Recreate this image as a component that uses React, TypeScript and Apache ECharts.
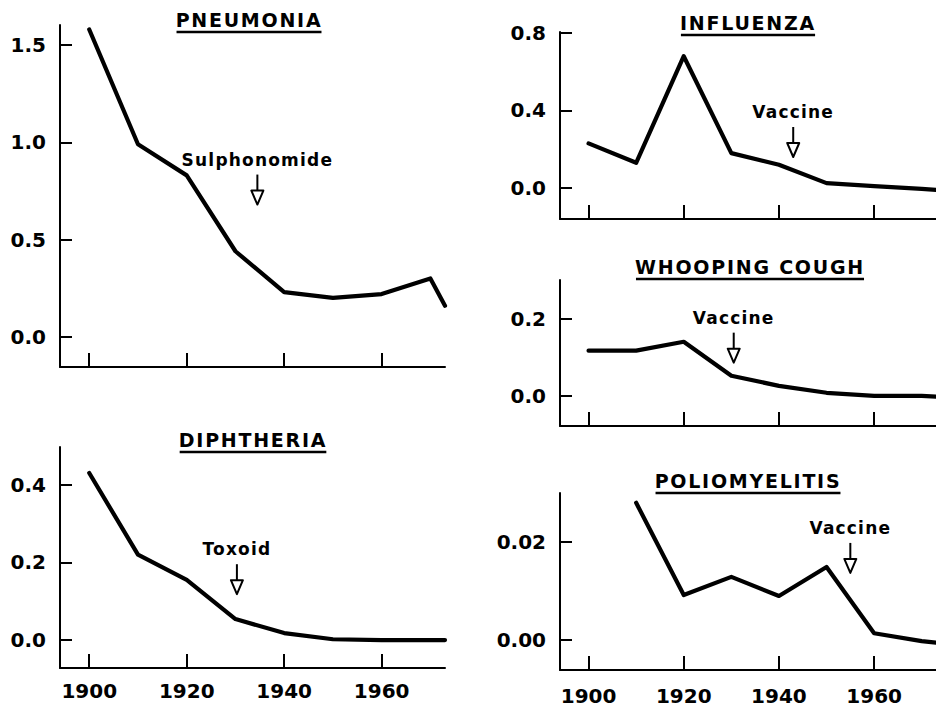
import React, { useEffect, useRef } from 'react';
import * as echarts from 'echarts';

// ---- data ----
const years = [1900, 1910, 1920, 1930, 1940, 1950, 1960, 1970, 1973];
const pneumonia = [1.58, 0.99, 0.83, 0.44, 0.23, 0.2, 0.22, 0.3, 0.16];
const diphtheria = [0.43, 0.22, 0.155, 0.054, 0.018, 0.002, 0.0, 0.0, 0.0];
const influenza = [0.23, 0.13, 0.68, 0.18, 0.12, 0.025, 0.01, -0.005, -0.01];
const whooping = [0.117, 0.117, 0.14, 0.052, 0.026, 0.008, 0.0, 0.0, -0.002];
const polioYears = [1910, 1920, 1930, 1940, 1950, 1960, 1970, 1973];
const polio = [0.028, 0.0092, 0.0129, 0.009, 0.0149, 0.0014, -0.0002, -0.0005];

const titles = ['PNEUMONIA', 'DIPHTHERIA', 'INFLUENZA', 'WHOOPING COUGH', 'POLIOMYELITIS'];
const xTicks = [1900, 1920, 1940, 1960];
const yTicks = [
  [0, 0.5, 1.0, 1.5],
  [0, 0.2, 0.4],
  [0, 0.4, 0.8],
  [0, 0.2],
  [0, 0.02],
];
const yDecimals = [1, 1, 1, 1, 2];

// interventions: label, year, value at arrow tip
const annotLabels = ['Sulphonomide', 'Toxoid', 'Vaccine', 'Vaccine', 'Vaccine'];
const annotYears = [1934.5, 1930.3, 1943, 1930.5, 1955];
const annotValues = [0.68, 0.118, 0.16, 0.086, 0.0137];

// ---- layout ----
const grids = [
  { left: 60, top: 25, width: 385, height: 342 },
  { left: 60, top: 447, width: 385, height: 221 },
  { left: 560, top: 32, width: 385, height: 187 },
  { left: 560, top: 280, width: 385, height: 146 },
  { left: 560, top: 493, width: 385, height: 177 },
];
const yRange = [
  [-0.155, 1.603],
  [-0.072, 0.497],
  [-0.16, 0.805],
  [-0.078, 0.3],
  [-0.0061, 0.03],
];
const titlePos = [
  [249, 20],
  [253, 440],
  [748, 23],
  [750, 267],
  [748, 481],
];
const showXLabels = [false, true, false, false, true];
const xLabelMargin = [13, 13, 13, 13, 16];

const FONT = '"DejaVu Sans", sans-serif';
const INK = '#000';
const TITLE_SPACING = 1.75;
const NOTE_SPACING = 1.2;

function measure(text: string, font: string, spacing: number): number {
  const c = document.createElement('canvas').getContext('2d');
  if (!c) return text.length * 12;
  c.font = font;
  return c.measureText(text).width + (text.length - 1) * spacing;
}

export default function App() {
  const ref = useRef<HTMLDivElement>(null);
  useEffect(() => {
    if (!ref.current) return;
    const chart = echarts.init(ref.current, null, { renderer: 'svg' });

    const seriesData = [
      years.map((y, i) => [y, pneumonia[i]]),
      years.map((y, i) => [y, diphtheria[i]]),
      years.map((y, i) => [y, influenza[i]]),
      years.map((y, i) => [y, whooping[i]]),
      polioYears.map((y, i) => [y, polio[i]]),
    ];

    const xAxis = grids.map((_, i) => ({
      type: 'value',
      gridIndex: i,
      min: 1894,
      max: 1973,
      axisLine: { show: true, onZero: false, lineStyle: { color: INK, width: 2 } },
      axisTick: {
        show: true,
        inside: true,
        length: 14,
        customValues: xTicks,
        lineStyle: { color: INK, width: 2 },
      },
      axisLabel: {
        show: showXLabels[i],
        customValues: xTicks,
        margin: xLabelMargin[i],
        color: INK,
        fontSize: 20,
        fontWeight: 'bold',
        fontFamily: FONT,
        formatter: (v: number) => String(Math.round(v)),
      },
      splitLine: { show: false },
    }));

    const yAxis = grids.map((_, i) => ({
      type: 'value',
      gridIndex: i,
      min: yRange[i][0],
      max: yRange[i][1],
      axisLine: { show: true, onZero: false, lineStyle: { color: INK, width: 2 } },
      axisTick: {
        show: true,
        inside: true,
        length: 12,
        customValues: yTicks[i],
        lineStyle: { color: INK, width: 2 },
      },
      axisLabel: {
        show: true,
        customValues: yTicks[i],
        margin: 14,
        color: INK,
        fontSize: 20,
        fontWeight: 'bold',
        fontFamily: FONT,
        formatter: (v: number) => v.toFixed(yDecimals[i]),
      },
      splitLine: { show: false },
    }));

    const lineSeries = seriesData.map((d, i) => ({
      type: 'line',
      xAxisIndex: i,
      yAxisIndex: i,
      data: d,
      showSymbol: false,
      symbol: 'none',
      lineStyle: { color: INK, width: 4.2, join: 'round', cap: 'round' },
      silent: true,
    }));

    const arrowSeries = grids.map((_, i) => ({
      type: 'custom',
      xAxisIndex: i,
      yAxisIndex: i,
      data: [[annotYears[i], annotValues[i]]],
      silent: true,
      clip: false,
      renderItem: (params: any, api: any) => {
        const p = api.coord([api.value(0), api.value(1)]);
        const x = p[0];
        const y = p[1];
        const total = 30;
        const headH = 14;
        const headW = 6;
        return {
          type: 'group',
          children: [
            {
              type: 'line',
              shape: { x1: x, y1: y - total, x2: x, y2: y - headH },
              style: { stroke: INK, lineWidth: 2 },
            },
            {
              type: 'polygon',
              shape: {
                points: [
                  [x - headW, y - headH],
                  [x + headW, y - headH],
                  [x, y],
                ],
              },
              style: { fill: '#fff', stroke: INK, lineWidth: 2, lineJoin: 'round' },
            },
            {
              type: 'text',
              x: x,
              y: y - total - 15,
              style: {
                text: annotLabels[i],
                fill: INK,
                font: `bold 17px ${FONT}`,
                align: 'center',
                verticalAlign: 'middle',
                textAlign: 'center',
                textVerticalAlign: 'middle',
              },
            },
          ],
        };
      },
    }));

    const titleFont = `bold 19px ${FONT}`;
    const graphic: any[] = [];
    titles.forEach((t, i) => {
      const [cx, cy] = titlePos[i];
      const w = measure(t, titleFont, TITLE_SPACING);
      graphic.push({
        type: 'text',
        x: cx,
        y: cy,
        style: {
          text: t,
          fill: INK,
          font: titleFont,
          align: 'center',
          verticalAlign: 'middle',
          textAlign: 'center',
          textVerticalAlign: 'middle',
        },
      });
      graphic.push({
        type: 'line',
        shape: { x1: cx - w / 2, y1: cy + 12, x2: cx + w / 2, y2: cy + 12 },
        style: { stroke: INK, lineWidth: 2.5 },
      });
    });

    chart.setOption({
      animation: false,
      backgroundColor: '#fff',
      grid: grids.map((g) => ({ ...g, containLabel: false })),
      xAxis,
      yAxis,
      series: [...lineSeries, ...arrowSeries],
      graphic,
    } as any);

    return () => chart.dispose();
  }, []);

  return (
    <>
      <style>{`
        .mortality-chart text[style*="19px"] { letter-spacing: ${TITLE_SPACING}px; }
        .mortality-chart text[style*="17px"] { letter-spacing: ${NOTE_SPACING}px; }
      `}</style>
      <div
        ref={ref}
        className="mortality-chart"
        style={{ position: 'absolute', left: 0, top: 0, width: 936, height: 710, overflow: 'hidden', background: '#fff' }}
      />
    </>
  );
}
